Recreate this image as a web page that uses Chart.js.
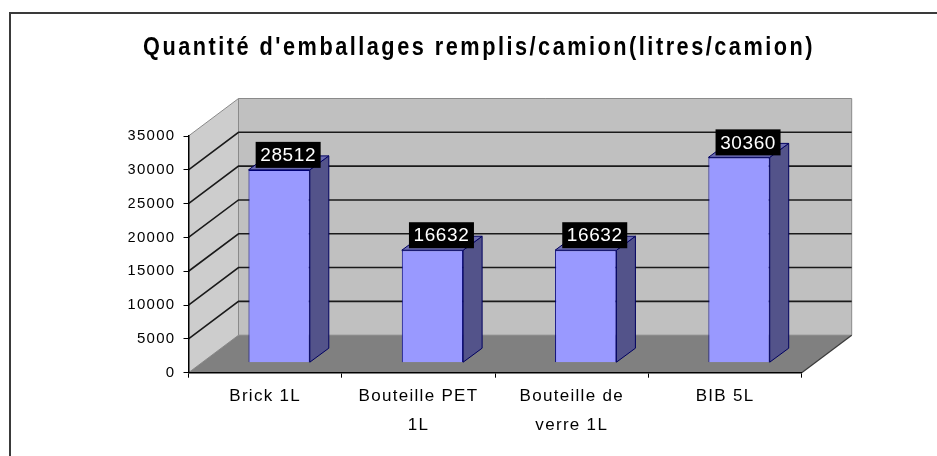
<!DOCTYPE html>
<html><head><meta charset="utf-8">
<script src="https://cdn.jsdelivr.net/npm/chart.js@4"></script>
<style>html,body{margin:0;padding:0;background:#fff;overflow:hidden}#wrap{width:937px;height:456px;position:relative}canvas{display:block}</style>
</head><body><div id="wrap"><canvas id="c" width="937" height="456"></canvas></div>
<script>
// ---- data ----
const chartTitle = "Quantité d'emballages remplis/camion(litres/camion)";
const categories = [["Brick 1L"], ["Bouteille PET", "1L"], ["Bouteille de", "verre 1L"], ["BIB 5L"]];
const values = [28512, 16632, 16632, 30360];
const valueLabels = values.map(v => String(v));
const yMin = 0, yMax = 35000, yStep = 5000;

// ---- style ----
const WALL_DEPTH = {dx: 50, dy: -37.5};
const BAR_SHIFT = {dx: 14, dy: -10};
const BAR_DEPTH = {dx: 19, dy: -14};
const FONT = '"Liberation Sans", Arial, sans-serif';

function poly(ctx, pts, fill, stroke, lw) {
  ctx.beginPath();
  ctx.moveTo(pts[0][0], pts[0][1]);
  for (let i = 1; i < pts.length; i++) ctx.lineTo(pts[i][0], pts[i][1]);
  ctx.closePath();
  if (fill) { ctx.fillStyle = fill; ctx.fill(); }
  if (stroke) { ctx.strokeStyle = stroke; ctx.lineWidth = lw || 1; ctx.stroke(); }
}

const threeD = {
  id: 'threeD',
  beforeDraw(chart) {
    const ctx = chart.ctx, a = chart.chartArea, ys = chart.scales.y;
    ctx.save();
    // outer frame
    ctx.strokeStyle = '#3a3a3a'; ctx.lineWidth = 2;
    ctx.beginPath(); ctx.moveTo(10, 460); ctx.lineTo(10, 13); ctx.lineTo(940, 13); ctx.stroke();
    // title (condensed bold look)
    ctx.font = 'bold 26px ' + FONT;
    ctx.letterSpacing = '3px';
    const w = ctx.measureText(chartTitle).width;
    const sx = 672 / w;
    ctx.save();
    ctx.translate(479, 54.5);
    ctx.scale(sx, 1);
    ctx.fillStyle = '#000'; ctx.textAlign = 'center'; ctx.textBaseline = 'alphabetic';
    ctx.fillText(chartTitle, 0, 0);
    ctx.restore();
    ctx.letterSpacing = '0px';

    const L = a.left, R = a.right;
    const T = ys.getPixelForValue(yMax), B = ys.getPixelForValue(yMin);
    const dx = WALL_DEPTH.dx, dy = WALL_DEPTH.dy;
    // back wall
    poly(ctx, [[L + dx, T + dy], [R + dx, T + dy], [R + dx, B + dy], [L + dx, B + dy]], '#c0c0c0', '#8a8a8a', 1);
    // left wall
    poly(ctx, [[L, B], [L, T], [L + dx, T + dy], [L + dx, B + dy]], '#cdcdcd', '#8a8a8a', 1);
    // floor
    poly(ctx, [[L, B], [R, B], [R + dx, B + dy], [L + dx, B + dy]], '#808080', null);
    ctx.strokeStyle = '#3a3a3a'; ctx.lineWidth = 1.2;
    ctx.beginPath(); ctx.moveTo(R, B); ctx.lineTo(R + dx, B + dy); ctx.stroke();
    // gridlines
    ctx.strokeStyle = '#1a1a1a'; ctx.lineWidth = 1.6;
    ys.ticks.forEach(t => {
      if (t.value === yMin || t.value === yMax) return;
      const py = ys.getPixelForValue(t.value);
      ctx.beginPath();
      ctx.moveTo(L, py); ctx.lineTo(L + dx, py + dy); ctx.lineTo(R + dx, py + dy);
      ctx.stroke();
    });
    ctx.restore();
    ctx.letterSpacing = '1.3px';
  },
  beforeDatasetsDraw(chart) {
    chart.ctx.save();
    chart.ctx.translate(BAR_SHIFT.dx, BAR_SHIFT.dy);
  },
  afterDatasetsDraw(chart) {
    const ctx = chart.ctx;
    ctx.restore();
    ctx.save();
    const meta = chart.getDatasetMeta(0);
    meta.data.forEach((el, i) => {
      const p = el.getProps(['x', 'y', 'base', 'width'], true);
      const l = p.x - p.width / 2 + BAR_SHIFT.dx, r = p.x + p.width / 2 + BAR_SHIFT.dx;
      const t = p.y + BAR_SHIFT.dy, b = p.base + BAR_SHIFT.dy;
      const bx = BAR_DEPTH.dx, by = BAR_DEPTH.dy;
      poly(ctx, [[r, b], [r, t], [r + bx, t + by], [r + bx, b + by]], '#53538a', '#000060', 1);
      poly(ctx, [[l, t], [r, t], [r + bx, t + by], [l + bx, t + by]], '#6c6cb0', '#000060', 1);
      // value label
      const cx = p.x + BAR_SHIFT.dx + 9, cy = t - 15;
      ctx.fillStyle = '#000';
      ctx.fillRect(cx - 32.5, cy - 13, 65, 26);
      ctx.font = '19px ' + FONT;
      ctx.letterSpacing = '0.6px';
      ctx.fillStyle = '#fff'; ctx.textAlign = 'center'; ctx.textBaseline = 'middle';
      ctx.fillText(valueLabels[i], cx, cy + 1);
    });
    ctx.restore();
  }
};

new Chart(document.getElementById('c'), {
  type: 'bar',
  data: {
    labels: categories,
    datasets: [{
      data: values,
      backgroundColor: '#9999ff',
      borderColor: '#000080',
      borderWidth: 1,
      barPercentage: 0.4,
      categoryPercentage: 1,
      clip: false
    }]
  },
  options: {
    responsive: false,
    animation: false,
    devicePixelRatio: 1,
    layout: {padding: {left: 128.5, right: 135.3, top: 136, bottom: 23.3}},
    plugins: {legend: {display: false}, tooltip: {enabled: false}, title: {display: false}},
    scales: {
      x: {
        grid: {drawOnChartArea: false, drawTicks: true, tickLength: 5, color: '#000', offset: true},
        border: {display: true, color: '#000', width: 1.5},
        ticks: {color: '#000', font: {family: FONT, size: 17, lineHeight: 1.7}, padding: 4, maxRotation: 0, autoSkip: false},
        afterFit(s) { s.height = 60; }
      },
      y: {
        min: yMin, max: yMax,
        grid: {drawOnChartArea: false, drawTicks: true, tickLength: 5, color: '#000'},
        border: {display: true, color: '#000', width: 1.5},
        ticks: {stepSize: yStep, color: '#000', font: {family: FONT, size: 15}, padding: 8, callback: v => String(v)},
        afterFit(s) { s.width = 60; }
      }
    }
  },
  plugins: [threeD]
});
</script>
</body></html>
